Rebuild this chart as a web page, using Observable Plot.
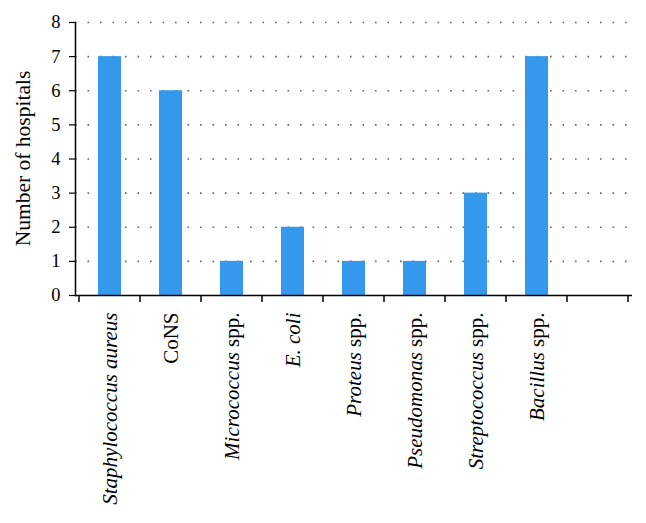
<!DOCTYPE html>
<html>
<head>
<meta charset="utf-8">
<script src="https://cdn.jsdelivr.net/npm/d3@7"></script>
<script src="https://cdn.jsdelivr.net/npm/@observablehq/plot@0.6"></script>
<style>
  html, body { margin: 0; padding: 0; background: #fff; }
  #chart { width: 646px; height: 523px; }
</style>
</head>
<body>
<div id="chart"></div>
<script>
const categories = ["Staphylococcus aureus", "CoNS", "Micrococcus spp.", "E. coli", "Proteus spp.", "Pseudomonas spp.", "Streptococcus spp.", "Bacillus spp."];
const italicParts = ["Staphylococcus aureus", "", "Micrococcus", "E. coli", "Proteus", "Pseudomonas", "Streptococcus", "Bacillus"];
const values = [7, 6, 1, 2, 1, 1, 3, 7];
const emptySlot = [""];          // trailing empty category slot on the x axis
const yTicks = [0, 1, 2, 3, 4, 5, 6, 7, 8];
const yLabel = "Number of hospitals";

const data = categories.map((c, i) => ({category: c, value: values[i]}));
const domain = [...categories, ...emptySlot];

const plot = Plot.plot({
  width: 646,
  height: 523,
  marginLeft: 75,
  marginRight: 14,
  marginTop: 22,
  marginBottom: 228,
  style: {fontFamily: "Liberation Serif", fontSize: "18px", color: "#000", background: "#fff"},
  x: {type: "band", domain, padding: 0, label: null},
  y: {domain: [0, 8], label: null},
  marks: [
    Plot.gridY(yTicks.filter(d => d > 0), {stroke: "#666", strokeOpacity: 1, strokeWidth: 1.6, strokeDasharray: "1.6,10.9"}),
    Plot.barY(data, {x: "category", y: "value", fill: "#3498ec", insetLeft: 19, insetRight: 19}),
    Plot.axisY({ticks: yTicks, tickSize: 6, tickPadding: 9, fontSize: 18.5, label: null, stroke: "#000", strokeWidth: 1.2}),
    Plot.axisX({tickSize: 0, tickRotate: -90, tickPadding: 17, fontSize: 21, label: null}),
    Plot.frame({anchor: "left", stroke: "#000", strokeWidth: 1.5}),
    Plot.ruleY([0], {stroke: "#000", strokeWidth: 1.5})
  ]
});

document.getElementById("chart").appendChild(plot);

const svg = d3.select(plot);
// mixed italic / roman tick labels
svg.selectAll('g[aria-label="x-axis tick label"] text').each(function () {
  const t = d3.select(this);
  const label = t.text();
  const i = categories.indexOf(label);
  if (i < 0) return;
  const it = italicParts[i];
  t.text(null);
  if (it) t.append("tspan").attr("font-style", "italic").text(it);
  const rest = label.slice(it.length);
  if (rest) t.append("tspan").text(rest);
});

// ticks at band edges of the x axis
const xs = plot.scale("x");
const ys = plot.scale("y");
const y0 = ys.apply(0);
const edges = domain.map(d => xs.apply(d)).concat([xs.apply(domain[domain.length - 1]) + xs.step]);
svg.append("g").attr("aria-label", "x-axis band ticks")
  .selectAll("line").data(edges).join("line")
  .attr("x1", d => d).attr("x2", d => d)
  .attr("y1", y0).attr("y2", y0 + 7)
  .attr("stroke", "#000").attr("stroke-width", 1.5);

// y axis title
svg.append("text")
  .attr("transform", `translate(25,${(ys.apply(0) + ys.apply(8)) / 2}) rotate(-90)`)
  .attr("text-anchor", "middle")
  .attr("dominant-baseline", "middle")
  .attr("font-family", "Liberation Serif")
  .attr("font-size", 21.5)
  .attr("fill", "#000")
  .text(yLabel);
</script>
</body>
</html>
